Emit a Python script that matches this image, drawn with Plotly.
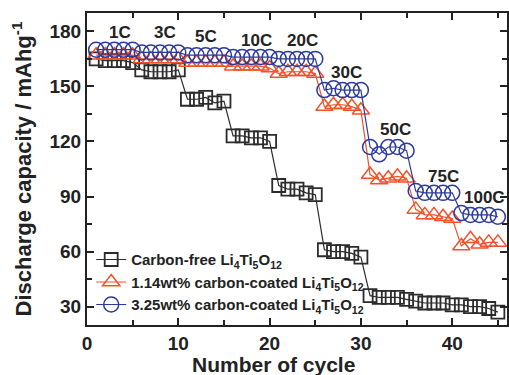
import plotly.graph_objects as go

cycles = list(range(1, 46))

carbon_free = [165, 164, 164, 164, 163,
               159, 158, 158, 158, 159,
               143, 143, 144, 141, 142,
               123, 123, 122, 122, 120,
               96, 94, 94, 92, 91,
               61, 60, 60, 59, 57,
               36, 35, 35, 35, 34, 33, 32, 32, 32, 31, 31, 30, 30, 29, 27]

coated_114 = [167, 167, 167, 167, 167,
              165, 165, 165, 165, 165,
              163, 163, 163, 163, 163,
              161, 161, 161, 161, 160,
              157, 158, 158, 158, 157,
              139, 140, 140, 139, 137,
              102, 99, 100, 101, 100,
              83, 80, 80, 79, 78,
              63, 67, 64, 65, 65]

coated_325 = [170, 170, 170, 170, 170,
              168.5, 168.5, 168.5, 168.5, 168.5,
              167, 167, 167, 167, 167,
              166, 166, 166, 166, 166,
              165, 165, 165, 165, 165,
              148, 149, 148, 148, 148,
              117, 113, 117, 117, 115,
              93, 92, 92, 92, 92,
              81, 80, 80, 80, 79]

rate_labels = ["1C", "3C", "5C", "10C", "20C", "30C", "50C", "75C", "100C"]
rate_x = [3.6, 8.5, 13.0, 18.6, 23.6, 28.4, 33.8, 39.0, 43.5]
rate_y = [179.5, 179.5, 177, 175, 175, 157.6, 126.5, 101, 89.4]

series_names = ["Carbon-free Li<sub>4</sub>Ti<sub>5</sub>O<sub>12</sub>",
                "1.14wt% carbon-coated Li<sub>4</sub>Ti<sub>5</sub>O<sub>12</sub>",
                "3.25wt% carbon-coated Li<sub>4</sub>Ti<sub>5</sub>O<sub>12</sub>"]

FONT = "Liberation Sans, Arial, sans-serif"
BLACK = "#2b2b2b"
RED = "#f2522a"
BLUE = "#2b3a9c"

fig = go.Figure()
fig.add_trace(go.Scatter(x=cycles, y=carbon_free, mode="lines+markers", name=series_names[0],
                         line=dict(color=BLACK, width=1.2),
                         marker=dict(symbol="square-open", size=13, color=BLACK, line=dict(width=1.8))))
fig.add_trace(go.Scatter(x=cycles, y=coated_114, mode="lines+markers", name=series_names[1],
                         line=dict(color=RED, width=1.2),
                         marker=dict(symbol="triangle-up-open", size=15, color=RED, line=dict(width=1.5))))
fig.add_trace(go.Scatter(x=cycles, y=coated_325, mode="lines+markers", name=series_names[2],
                         line=dict(color=BLUE, width=1.2),
                         marker=dict(symbol="circle-open", size=15, color=BLUE, line=dict(width=1.5))))

for t, x, y in zip(rate_labels, rate_x, rate_y):
    fig.add_annotation(x=x, y=y, text=t, showarrow=False,
                       font=dict(family=FONT, size=17, color="#222", weight="bold"))

# x-axis title placed as a paper annotation so it can sit low in the margin
fig.add_annotation(xref="paper", yref="paper", x=0.444, y=-0.127, xanchor="center", yanchor="middle",
                   text="Number of cycle", showarrow=False,
                   font=dict(family=FONT, size=21, color="#222", weight="bold"))

axis_common = dict(showline=True, linecolor="#222", linewidth=2, mirror="ticks",
                   ticks="inside", ticklen=7, tickwidth=1.5, tickcolor="#222",
                   showgrid=False, zeroline=False,
                   tickfont=dict(family=FONT, size=19, color="#222", weight="bold"))

fig.update_xaxes(range=[0, 46], tickvals=[0, 10, 20, 30, 40],
                 minor=dict(tickvals=[5, 15, 25, 35, 45], ticklen=5, ticks="inside", tickcolor="#222", tickwidth=1.5),
                 **axis_common)
fig.update_yaxes(range=[20, 190], tickvals=[30, 60, 90, 120, 150, 180],
                 minor=dict(tickvals=[45, 75, 105, 135, 165], ticklen=5, ticks="inside", tickcolor="#222", tickwidth=1.5),
                 title=dict(text="Discharge capacity / mAhg<sup>-1</sup>", font=dict(family=FONT, size=22, color="#222", weight="bold"), standoff=12),
                 **axis_common)

fig.update_layout(width=509, height=375, margin=dict(l=87, r=0, t=13, b=50),
                  plot_bgcolor="white", paper_bgcolor="white",
                  legend=dict(x=0.01, y=0.262, xanchor="left", yanchor="top", bgcolor="rgba(0,0,0,0)",
                              font=dict(family=FONT, size=15, color="#222", weight="bold"),
                              itemsizing="trace", tracegroupgap=0))

fig.write_html("out.html")
